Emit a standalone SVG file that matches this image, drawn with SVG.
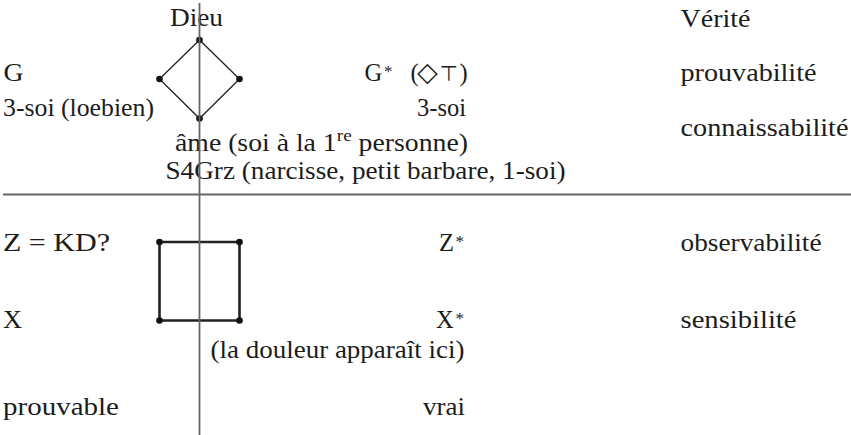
<svg xmlns="http://www.w3.org/2000/svg" width="851" height="435" viewBox="0 0 851 435">
<style>
text{font-family:"Liberation Serif","DejaVu Serif",serif;font-size:24.5px;fill:#1c1c1c}
.sup{font-size:17px}
.sym{font-family:"DejaVu Sans",sans-serif}
.thin{stroke:#222;stroke-width:1.3;fill:none}
.thick{stroke:#222;stroke-width:2.6;fill:none}
.dot{fill:#111}
.axis{stroke:#666;stroke-width:1.8}
</style>
<rect width="851" height="435" fill="#fff"/>
<g id="connectors">
<path class="thin" d="M199.5 40 L159.5 79 L199.5 118.5 L239.5 79 Z"/>
<path class="thick" d="M159.5 242 L239.5 242 L239.5 320.5 L159.5 320.5 Z"/>
</g>
<g id="diamond-top"><circle class="dot" cx="199.5" cy="40" r="3.3"/></g>
<g id="diamond-left"><circle class="dot" cx="159.5" cy="79" r="3.3"/></g>
<g id="diamond-right"><circle class="dot" cx="239.5" cy="79" r="3.3"/></g>
<g id="diamond-bottom"><circle class="dot" cx="199.5" cy="118.5" r="3.3"/></g>
<g id="square-tl"><circle class="dot" cx="159.5" cy="242" r="3.3"/></g>
<g id="square-tr"><circle class="dot" cx="239.5" cy="242" r="3.3"/></g>
<g id="square-bl"><circle class="dot" cx="159.5" cy="320.5" r="3.3"/></g>
<g id="square-br"><circle class="dot" cx="239.5" cy="320.5" r="3.3"/></g>
<g id="lbl-dieu"><text x="170" y="26" textLength="53" lengthAdjust="spacingAndGlyphs">Dieu</text></g>
<g id="lbl-verite"><text x="680.5" y="26.5" textLength="70" lengthAdjust="spacingAndGlyphs">Vérité</text></g>
<g id="lbl-g"><text x="3.5" y="81" textLength="20" lengthAdjust="spacingAndGlyphs">G</text></g>
<g id="lbl-gstar"><text y="81"><tspan x="364.5">G</tspan><tspan class="sup" x="384" dy="-4">*</tspan><tspan x="410.5" dy="4">(</tspan><tspan class="sym" x="417" font-size="27">◇</tspan><tspan class="sym" x="439.5" font-size="21">⊤</tspan><tspan x="459.5">)</tspan></text></g>
<g id="lbl-prouvabilite"><text x="680.5" y="81" textLength="136" lengthAdjust="spacingAndGlyphs">prouvabilité</text></g>
<g id="lbl-3soi-l"><text x="3" y="116" textLength="151" lengthAdjust="spacingAndGlyphs">3-soi (loebien)</text></g>
<g id="lbl-3soi-r"><text x="417" y="116" textLength="49" lengthAdjust="spacingAndGlyphs">3-soi</text></g>
<g id="lbl-connaissabilite"><text x="680.5" y="136" textLength="168" lengthAdjust="spacingAndGlyphs">connaissabilité</text></g>
<g id="lbl-ame"><text x="175" y="151" textLength="293" lengthAdjust="spacingAndGlyphs">âme (soi à la 1<tspan class="sup" dy="-10">re</tspan><tspan dy="10"> personne)</tspan></text></g>
<g id="lbl-s4grz"><text x="165.5" y="179" textLength="400" lengthAdjust="spacingAndGlyphs">S4Grz (narcisse, petit barbare, 1-soi)</text></g>
<g id="lbl-z"><text x="3" y="251" textLength="107" lengthAdjust="spacingAndGlyphs">Z = KD?</text></g>
<g id="lbl-zstar"><text y="251"><tspan x="439">Z</tspan><tspan class="sup" x="455.5" dy="-4">*</tspan></text></g>
<g id="lbl-observabilite"><text x="680.5" y="251" textLength="141" lengthAdjust="spacingAndGlyphs">observabilité</text></g>
<g id="lbl-x"><text x="3" y="328" textLength="19" lengthAdjust="spacingAndGlyphs">X</text></g>
<g id="lbl-xstar"><text y="328"><tspan x="436">X</tspan><tspan class="sup" x="455.5" dy="-4">*</tspan></text></g>
<g id="lbl-sensibilite"><text x="680.5" y="328" textLength="116" lengthAdjust="spacingAndGlyphs">sensibilité</text></g>
<g id="lbl-douleur"><text x="210.5" y="358" textLength="254" lengthAdjust="spacingAndGlyphs">(la douleur apparaît ici)</text></g>
<g id="lbl-prouvable"><text x="3" y="415" textLength="116" lengthAdjust="spacingAndGlyphs">prouvable</text></g>
<g id="lbl-vrai"><text x="423" y="415" textLength="42" lengthAdjust="spacingAndGlyphs">vrai</text></g>
<g id="axes">
<line class="axis" x1="199.5" y1="3" x2="199.5" y2="435"/>
<line class="axis" x1="3" y1="194.5" x2="851" y2="194.5"/>
</g>
</svg>
